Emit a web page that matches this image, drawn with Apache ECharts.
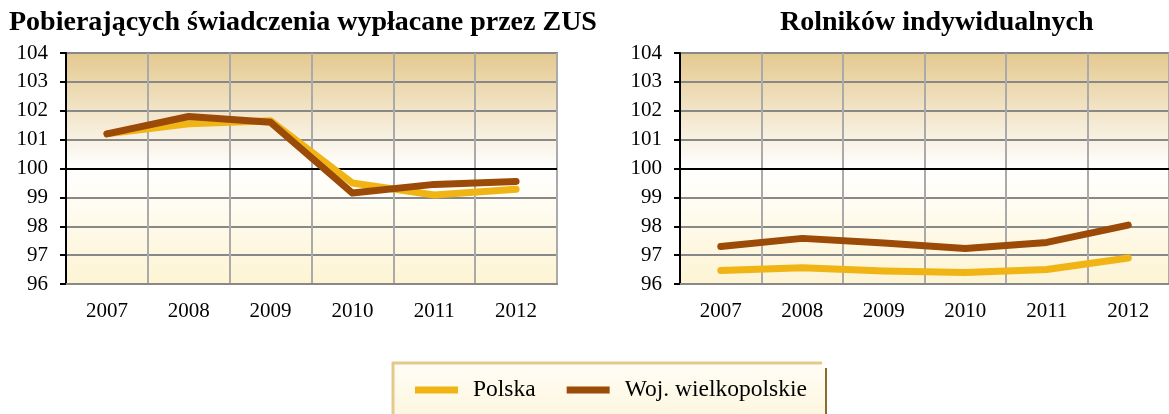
<!DOCTYPE html>
<html>
<head>
<meta charset="utf-8">
<script src="https://cdn.jsdelivr.net/npm/echarts@6/dist/echarts.min.js"></script>
<style>
  html, body { margin: 0; padding: 0; background: #fff; }
  #main { width: 1169px; height: 414px; }
</style>
</head>
<body>
<div id="main"></div>
<script>
// dane
const years = ['2007', '2008', '2009', '2010', '2011', '2012']
const zusPolska = [101.2, 101.55, 101.65, 99.5, 99.08, 99.28]
const zusWlkp = [101.2, 101.8, 101.6, 99.15, 99.45, 99.55]
const rolPolska = [96.47, 96.56, 96.45, 96.4, 96.5, 96.9]
const rolWlkp = [97.3, 97.58, 97.42, 97.23, 97.44, 98.04]
const seriesNames = ['Polska', 'Woj. wielkopolskie']
const titles = ['Pobierających świadczenia wypłacane przez ZUS', 'Rolników indywidualnych']

const FONT = '"Liberation Serif", "DejaVu Serif", serif'
const colPolska = '#f0b415'
const colWlkp = '#9b4a07'

const myChart = echarts.init(document.getElementById('main'))

// tlo wykresu: braz u gory, bialy na 100, kremowy na dole
const plotBg = {
  type: 'linear', x: 0, y: 0, x2: 0, y2: 1,
  colorStops: [
    { offset: 0, color: '#e4c98f' },
    { offset: 0.5, color: '#ffffff' },
    { offset: 1, color: '#fdf4d3' },
  ],
}

function xAxisCfg(idx) {
  return {
    type: 'category',
    gridIndex: idx,
    data: years,
    boundaryGap: true,
    axisLine: { lineStyle: { color: '#888', width: 2 } },
    axisTick: { show: false },
    axisLabel: { color: '#000', fontFamily: FONT, fontSize: 21, margin: 17 },
    splitLine: { show: true, lineStyle: { color: '#aaa', width: 2 } },
  }
}
function yAxisCfg(idx) {
  return {
    type: 'value',
    gridIndex: idx,
    min: 96,
    max: 104,
    interval: 1,
    axisLine: { show: true, lineStyle: { color: '#000', width: 2 } },
    axisTick: { show: true, inside: false, length: 6, lineStyle: { color: '#000', width: 2 } },
    axisLabel: { color: '#000', fontFamily: FONT, fontSize: 21, margin: 18 },
    splitLine: { show: true, lineStyle: { color: '#888', width: 2 } },
  }
}
function lineSeries(name, data, color, idx, withMark) {
  const s = {
    name: name,
    type: 'line',
    xAxisIndex: idx,
    yAxisIndex: idx,
    data: data,
    symbol: 'none',
    lineStyle: { color: color, width: 7, cap: 'round', join: 'round' },
    itemStyle: { color: color },
    z: 3,
  }
  if (withMark) {
    s.markLine = {
      silent: true,
      symbol: 'none',
      label: { show: false },
      lineStyle: { color: '#000', width: 2, type: 'solid' },
      data: [{ yAxis: 100 }],
      z: 2,
    }
  }
  return s
}

const option = {
  animation: false,
  backgroundColor: '#fff',
  title: [
    {
      text: titles[0], left: 4, top: 4,
      textStyle: { fontFamily: FONT, fontSize: 28, fontWeight: 'bold', color: '#000' },
    },
    {
      text: titles[1], left: 775, top: 4,
      textStyle: { fontFamily: FONT, fontSize: 28, fontWeight: 'bold', color: '#000' },
    },
  ],
  grid: [
    { left: 66, top: 53, width: 491, height: 231, show: true, backgroundColor: plotBg, borderColor: '#888', borderWidth: 2 },
    { left: 680, top: 53, width: 492, height: 231, show: true, backgroundColor: plotBg, borderColor: '#888', borderWidth: 2 },
  ],
  xAxis: [xAxisCfg(0), xAxisCfg(1)],
  yAxis: [yAxisCfg(0), yAxisCfg(1)],
  legend: {
    data: seriesNames,
    left: 410,
    top: 373,
    icon: 'rect',
    itemWidth: 43,
    itemHeight: 7,
    itemGap: 31,
    textStyle: { fontFamily: FONT, fontSize: 23.5, color: '#000', padding: [0, 0, 0, 10] },
  },
  graphic: [
    {
      type: 'rect', left: 392, top: 362, z: -1,
      shape: { width: 434, height: 60 },
      style: {
        fill: { type: 'linear', x: 0, y: 0, x2: 0, y2: 1, colorStops: [
          { offset: 0, color: '#fffdf6' }, { offset: 1, color: '#fdf6dc' } ] },
      },
    },
    { type: 'line', z: 0, shape: { x1: 392, y1: 363, x2: 822, y2: 363 }, style: { stroke: '#e3ca8c', lineWidth: 3 } },
    { type: 'line', z: 0, shape: { x1: 393, y1: 362, x2: 393, y2: 414 }, style: { stroke: '#e3ca8c', lineWidth: 3 } },
    { type: 'line', z: 0, shape: { x1: 826, y1: 368, x2: 826, y2: 414 }, style: { stroke: '#8c6b2c', lineWidth: 2 } },
  ],
  series: [
    lineSeries(seriesNames[0], zusPolska, colPolska, 0, true),
    lineSeries(seriesNames[1], zusWlkp, colWlkp, 0, false),
    lineSeries(seriesNames[0], rolPolska, colPolska, 1, true),
    lineSeries(seriesNames[1], rolWlkp, colWlkp, 1, false),
  ],
}

myChart.setOption(option)
</script>
</body>
</html>
